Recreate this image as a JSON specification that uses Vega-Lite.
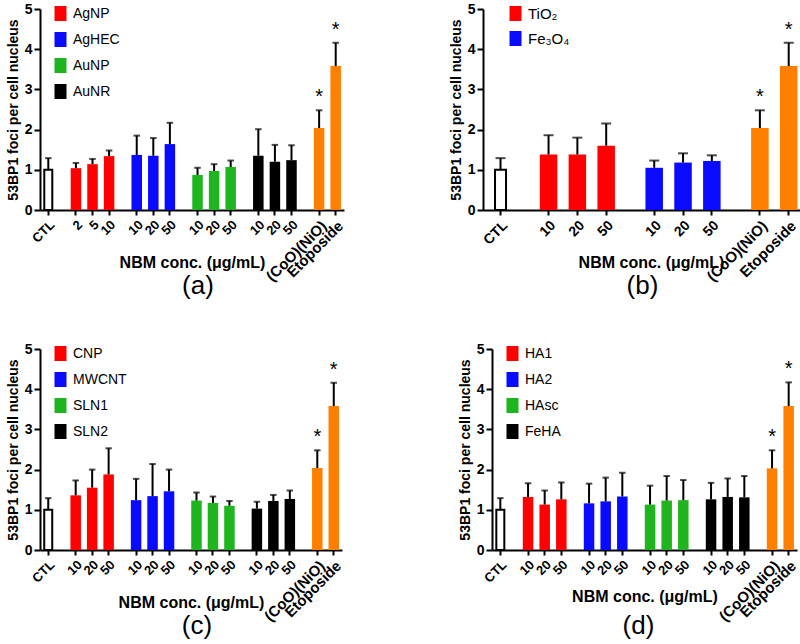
{
  "$schema": "https://vega.github.io/schema/vega-lite/v6.json",
  "padding": {"left": 6, "top": 2, "right": 0, "bottom": 0},
  "datasets": {
    "a": [
      {"key": "CTL", "grp": "CTL", "mean": 1.0, "upper": 1.29},
      {"key": "AgNP:2", "grp": "AgNP", "mean": 1.04, "upper": 1.17},
      {"key": "AgNP:5", "grp": "AgNP", "mean": 1.14, "upper": 1.27},
      {"key": "AgNP:10", "grp": "AgNP", "mean": 1.34, "upper": 1.48},
      {"key": "AgHEC:10", "grp": "AgHEC", "mean": 1.37, "upper": 1.85},
      {"key": "AgHEC:20", "grp": "AgHEC", "mean": 1.35, "upper": 1.79},
      {"key": "AgHEC:50", "grp": "AgHEC", "mean": 1.64, "upper": 2.17},
      {"key": "AuNP:10", "grp": "AuNP", "mean": 0.87, "upper": 1.05},
      {"key": "AuNP:20", "grp": "AuNP", "mean": 0.97, "upper": 1.14},
      {"key": "AuNP:50", "grp": "AuNP", "mean": 1.07, "upper": 1.23},
      {"key": "AuNR:10", "grp": "AuNR", "mean": 1.35, "upper": 2.01},
      {"key": "AuNR:20", "grp": "AuNR", "mean": 1.2, "upper": 1.62},
      {"key": "AuNR:50", "grp": "AuNR", "mean": 1.24, "upper": 1.61},
      {"key": "(CoO)(NiO)", "grp": "pos", "mean": 2.04, "upper": 2.48, "sig": "*"},
      {"key": "Etoposide", "grp": "pos", "mean": 3.58, "upper": 4.16, "sig": "*"}
    ],
    "b": [
      {"key": "CTL", "grp": "CTL", "mean": 1.0, "upper": 1.29},
      {"key": "TiO2:10", "grp": "TiO₂", "mean": 1.38, "upper": 1.86},
      {"key": "TiO2:20", "grp": "TiO₂", "mean": 1.38, "upper": 1.8},
      {"key": "TiO2:50", "grp": "TiO₂", "mean": 1.6, "upper": 2.15},
      {"key": "Fe3O4:10", "grp": "Fe₃O₄", "mean": 1.05, "upper": 1.23},
      {"key": "Fe3O4:20", "grp": "Fe₃O₄", "mean": 1.18, "upper": 1.41},
      {"key": "Fe3O4:50", "grp": "Fe₃O₄", "mean": 1.22, "upper": 1.36},
      {"key": "(CoO)(NiO)", "grp": "pos", "mean": 2.04, "upper": 2.48, "sig": "*"},
      {"key": "Etoposide", "grp": "pos", "mean": 3.58, "upper": 4.16, "sig": "*"}
    ],
    "c": [
      {"key": "CTL", "grp": "CTL", "mean": 1.0, "upper": 1.29},
      {"key": "CNP:10", "grp": "CNP", "mean": 1.36, "upper": 1.73},
      {"key": "CNP:20", "grp": "CNP", "mean": 1.55, "upper": 2.0},
      {"key": "CNP:50", "grp": "CNP", "mean": 1.88, "upper": 2.53},
      {"key": "MWCNT:10", "grp": "MWCNT", "mean": 1.24, "upper": 1.77},
      {"key": "MWCNT:20", "grp": "MWCNT", "mean": 1.34, "upper": 2.14},
      {"key": "MWCNT:50", "grp": "MWCNT", "mean": 1.46, "upper": 2.0},
      {"key": "SLN1:10", "grp": "SLN1", "mean": 1.23, "upper": 1.43},
      {"key": "SLN1:20", "grp": "SLN1", "mean": 1.17, "upper": 1.33},
      {"key": "SLN1:50", "grp": "SLN1", "mean": 1.1, "upper": 1.22},
      {"key": "SLN2:10", "grp": "SLN2", "mean": 1.03, "upper": 1.2},
      {"key": "SLN2:20", "grp": "SLN2", "mean": 1.22, "upper": 1.37},
      {"key": "SLN2:50", "grp": "SLN2", "mean": 1.27, "upper": 1.48},
      {"key": "(CoO)(NiO)", "grp": "pos", "mean": 2.04, "upper": 2.48, "sig": "*"},
      {"key": "Etoposide", "grp": "pos", "mean": 3.58, "upper": 4.16, "sig": "*"}
    ],
    "d": [
      {"key": "CTL", "grp": "CTL", "mean": 1.0, "upper": 1.29},
      {"key": "HA1:10", "grp": "HA1", "mean": 1.32, "upper": 1.66},
      {"key": "HA1:20", "grp": "HA1", "mean": 1.13, "upper": 1.48},
      {"key": "HA1:50", "grp": "HA1", "mean": 1.26, "upper": 1.68},
      {"key": "HA2:10", "grp": "HA2", "mean": 1.16, "upper": 1.65},
      {"key": "HA2:20", "grp": "HA2", "mean": 1.21, "upper": 1.8},
      {"key": "HA2:50", "grp": "HA2", "mean": 1.33, "upper": 1.92},
      {"key": "HAsc:10", "grp": "HAsc", "mean": 1.13, "upper": 1.6},
      {"key": "HAsc:20", "grp": "HAsc", "mean": 1.23, "upper": 1.84},
      {"key": "HAsc:50", "grp": "HAsc", "mean": 1.24, "upper": 1.74},
      {"key": "FeHA:10", "grp": "FeHA", "mean": 1.26, "upper": 1.67},
      {"key": "FeHA:20", "grp": "FeHA", "mean": 1.32, "upper": 1.78},
      {"key": "FeHA:50", "grp": "FeHA", "mean": 1.31, "upper": 1.84},
      {"key": "(CoO)(NiO)", "grp": "pos", "mean": 2.03, "upper": 2.48, "sig": "*"},
      {"key": "Etoposide", "grp": "pos", "mean": 3.58, "upper": 4.17, "sig": "*"}
    ]
  },
  "vconcat": [
    {
      "hconcat": [
        {
          "width": 304, "height": 201,
          "data": {"name": "a"},
          "title": {"text": "(a)", "orient": "bottom", "anchor": "middle", "frame": "group", "fontSize": 26, "fontWeight": "normal", "offset": -11, "dx": 6},
          "encoding": {
            "x": {"field": "key", "type": "nominal",
              "scale": {"type": "band", "paddingInner": 0, "paddingOuter": 1.6,
                "domain": ["CTL","_1","_2","_3","_4","AgNP:2","_6","_7","AgNP:5","_9","_10","AgNP:10","_12","_13","_14","_15","AgHEC:10","_17","_18","AgHEC:20","_20","_21","AgHEC:50","_23","_24","_25","_26","AuNP:10","_28","_29","AuNP:20","_31","_32","AuNP:50","_34","_35","_36","_37","AuNR:10","_39","_40","AuNR:20","_42","_43","AuNR:50","_45","_46","_47","_48","(CoO)(NiO)","_50","_51","Etoposide"]},
              "axis": {"title": "NBM conc. (μg/mL)", "titleFontSize": 16, "titleY": 44, "titleBaseline": "top", "labelAngle": -45, "labelOverlap": false, "labelPadding": 3,
                "labelFontSize": {"condition": {"test": "length(datum.value) > 8", "value": 15}, "value": 13},
                "labelExpr": "indexof(datum.value,'_')==0 ? '' : (indexof(datum.value,':')>0 ? split(datum.value,':')[1] : datum.value)",
                "tickOpacity": {"condition": {"test": "indexof(datum.value,'_')==0", "value": 0}, "value": 1},
                "encode": {"labels": {"update": {"angle": {"signal": "length(datum.value) > 8 ? -62 : -45"}}}}}}
          },
          "layer": [
            {"transform": [{"filter": "datum.grp != 'CTL'"}],
             "mark": {"type": "bar", "width": 10.5},
             "encoding": {
               "y": {"field": "mean", "type": "quantitative", "title": "53BP1 foci per cell nucleus", "scale": {"domain": [0, 5]}, "axis": {"values": [0,1,2,3,4,5], "tickSize": 6, "labelPadding": 2, "labelFontSize": 14, "titleFontSize": 14, "titlePadding": 4, "format": "d"}},
               "color": {"field": "grp", "type": "nominal",
                 "scale": {"domain": ["AgNP","AgHEC","AuNP","AuNR","pos"], "range": ["#ff0000","#0a0aff","#1fb51f","#000000","#ff8000"]},
                 "legend": {"values": ["AgNP","AgHEC","AuNP","AuNR"], "title": null, "orient": "none", "legendX": 13, "legendY": -3}}
             }},
            {"transform": [{"filter": "datum.grp == 'CTL'"}],
             "mark": {"type": "bar", "width": 8, "fill": "white", "stroke": "black", "strokeWidth": 2},
             "encoding": {"y": {"field": "mean", "type": "quantitative", "title": "53BP1 foci per cell nucleus"}}},
            {"mark": {"type": "rule", "color": "black", "strokeWidth": 2},
             "encoding": {"y": {"field": "mean", "type": "quantitative", "title": "53BP1 foci per cell nucleus"}, "y2": {"field": "upper"}}},
            {"mark": {"type": "tick", "color": "black", "thickness": 2, "size": 6.5},
             "encoding": {"y": {"field": "upper", "type": "quantitative", "title": "53BP1 foci per cell nucleus"}}},
            {"transform": [{"filter": "datum.sig"}],
             "mark": {"type": "text", "fontSize": 20, "dy": -7, "baseline": "alphabetic", "color": "black"},
             "encoding": {"y": {"field": "upper", "type": "quantitative", "title": "53BP1 foci per cell nucleus"}, "text": {"field": "sig"}}}
          ]
        },
        {
          "width": 317, "height": 201,
          "data": {"name": "b"},
          "title": {"text": "(b)", "orient": "bottom", "anchor": "middle", "frame": "group", "fontSize": 26, "fontWeight": "normal", "offset": -11, "dx": 1},
          "encoding": {
            "x": {"field": "key", "type": "nominal",
              "scale": {"type": "band", "paddingInner": 0, "paddingOuter": 2.31, "align": 0.662,
                "domain": ["CTL","_1","_2","_3","_4","TiO2:10","_6","_7","TiO2:20","_9","_10","TiO2:50","_12","_13","_14","_15","Fe3O4:10","_17","_18","Fe3O4:20","_20","_21","Fe3O4:50","_23","_24","_25","_26","(CoO)(NiO)","_28","_29","Etoposide"]},
              "axis": {"title": "NBM conc. (μg/mL)", "titleFontSize": 16, "titleY": 44, "titleBaseline": "top", "titleX": 168, "labelAngle": -45, "labelOverlap": false, "labelPadding": 3,
                "labelFontSize": {"condition": {"test": "length(datum.value) > 8", "value": 15}, "value": 14},
                "labelExpr": "indexof(datum.value,'_')==0 ? '' : (indexof(datum.value,':')>0 ? split(datum.value,':')[1] : datum.value)",
                "tickOpacity": {"condition": {"test": "indexof(datum.value,'_')==0", "value": 0}, "value": 1},
                "encode": {"labels": {"update": {"angle": {"signal": "length(datum.value) > 8 ? -62 : -45"}}}}}}
          },
          "layer": [
            {"transform": [{"filter": "datum.grp != 'CTL'"}],
             "mark": {"type": "bar", "width": 17.5},
             "encoding": {
               "y": {"field": "mean", "type": "quantitative", "title": "53BP1 foci per cell nucleus", "scale": {"domain": [0, 5]}, "axis": {"values": [0,1,2,3,4,5], "tickSize": 6, "labelPadding": 2, "labelFontSize": 14, "titleFontSize": 14, "titlePadding": 4, "format": "d"}},
               "color": {"field": "grp", "type": "nominal",
                 "scale": {"domain": ["TiO₂","Fe₃O₄","pos"], "range": ["#ff0000","#0a0aff","#ff8000"]},
                 "legend": {"values": ["TiO₂","Fe₃O₄"], "title": null, "orient": "none", "legendX": 25, "legendY": -3, "rowPadding": 9, "labelFontSize": 15}}
             }},
            {"transform": [{"filter": "datum.grp == 'CTL'"}],
             "mark": {"type": "bar", "width": 11, "fill": "white", "stroke": "black", "strokeWidth": 2},
             "encoding": {"y": {"field": "mean", "type": "quantitative", "title": "53BP1 foci per cell nucleus"}}},
            {"mark": {"type": "rule", "color": "black", "strokeWidth": 2},
             "encoding": {"y": {"field": "mean", "type": "quantitative", "title": "53BP1 foci per cell nucleus"}, "y2": {"field": "upper"}}},
            {"mark": {"type": "tick", "color": "black", "thickness": 2, "size": 10},
             "encoding": {"y": {"field": "upper", "type": "quantitative", "title": "53BP1 foci per cell nucleus"}}},
            {"transform": [{"filter": "datum.sig"}],
             "mark": {"type": "text", "fontSize": 20, "dy": -7, "baseline": "alphabetic", "color": "black"},
             "encoding": {"y": {"field": "upper", "type": "quantitative", "title": "53BP1 foci per cell nucleus"}, "text": {"field": "sig"}}}
          ]
        }
      ],
      "spacing": 103,
      "resolve": {"scale": {"x": "independent", "y": "independent", "color": "independent"}, "legend": {"color": "independent"}}
    },
    {
      "hconcat": [
        {
          "width": 302, "height": 201,
          "data": {"name": "c"},
          "title": {"text": "(c)", "orient": "bottom", "anchor": "middle", "frame": "group", "fontSize": 26, "fontWeight": "normal", "offset": -11, "dx": 6},
          "encoding": {
            "x": {"field": "key", "type": "nominal",
              "scale": {"type": "band", "paddingInner": 0, "paddingOuter": 1.5,
                "domain": ["CTL","_1","_2","_3","_4","CNP:10","_6","_7","CNP:20","_9","_10","CNP:50","_12","_13","_14","_15","MWCNT:10","_17","_18","MWCNT:20","_20","_21","MWCNT:50","_23","_24","_25","_26","SLN1:10","_28","_29","SLN1:20","_31","_32","SLN1:50","_34","_35","_36","_37","SLN2:10","_39","_40","SLN2:20","_42","_43","SLN2:50","_45","_46","_47","_48","(CoO)(NiO)","_50","_51","Etoposide"]},
              "axis": {"title": "NBM conc. (μg/mL)", "titleFontSize": 16, "titleY": 44, "titleBaseline": "top", "labelAngle": -45, "labelOverlap": false, "labelPadding": 3,
                "labelFontSize": {"condition": {"test": "length(datum.value) > 8", "value": 15}, "value": 13},
                "labelExpr": "indexof(datum.value,'_')==0 ? '' : (indexof(datum.value,':')>0 ? split(datum.value,':')[1] : datum.value)",
                "tickOpacity": {"condition": {"test": "indexof(datum.value,'_')==0", "value": 0}, "value": 1},
                "encode": {"labels": {"update": {"angle": {"signal": "length(datum.value) > 8 ? -62 : -45"}}}}}}
          },
          "layer": [
            {"transform": [{"filter": "datum.grp != 'CTL'"}],
             "mark": {"type": "bar", "width": 10.5},
             "encoding": {
               "y": {"field": "mean", "type": "quantitative", "title": "53BP1 foci per cell nucleus", "scale": {"domain": [0, 5]}, "axis": {"values": [0,1,2,3,4,5], "tickSize": 6, "labelPadding": 2, "labelFontSize": 14, "titleFontSize": 14, "titlePadding": 4, "format": "d"}},
               "color": {"field": "grp", "type": "nominal",
                 "scale": {"domain": ["CNP","MWCNT","SLN1","SLN2","pos"], "range": ["#ff0000","#0a0aff","#1fb51f","#000000","#ff8000"]},
                 "legend": {"values": ["CNP","MWCNT","SLN1","SLN2"], "title": null, "orient": "none", "legendX": 13, "legendY": -3}}
             }},
            {"transform": [{"filter": "datum.grp == 'CTL'"}],
             "mark": {"type": "bar", "width": 8, "fill": "white", "stroke": "black", "strokeWidth": 2},
             "encoding": {"y": {"field": "mean", "type": "quantitative", "title": "53BP1 foci per cell nucleus"}}},
            {"mark": {"type": "rule", "color": "black", "strokeWidth": 2},
             "encoding": {"y": {"field": "mean", "type": "quantitative", "title": "53BP1 foci per cell nucleus"}, "y2": {"field": "upper"}}},
            {"mark": {"type": "tick", "color": "black", "thickness": 2, "size": 6.5},
             "encoding": {"y": {"field": "upper", "type": "quantitative", "title": "53BP1 foci per cell nucleus"}}},
            {"transform": [{"filter": "datum.sig"}],
             "mark": {"type": "text", "fontSize": 20, "dy": -7, "baseline": "alphabetic", "color": "black"},
             "encoding": {"y": {"field": "upper", "type": "quantitative", "title": "53BP1 foci per cell nucleus"}, "text": {"field": "sig"}}}
          ]
        },
        {
          "width": 305, "height": 201,
          "data": {"name": "d"},
          "title": {"text": "(d)", "orient": "bottom", "anchor": "middle", "frame": "group", "fontSize": 26, "fontWeight": "normal", "offset": -11, "dx": -6},
          "encoding": {
            "x": {"field": "key", "type": "nominal",
              "scale": {"type": "band", "paddingInner": 0, "paddingOuter": 1.7,
                "domain": ["CTL","_1","_2","_3","_4","HA1:10","_6","_7","HA1:20","_9","_10","HA1:50","_12","_13","_14","_15","HA2:10","_17","_18","HA2:20","_20","_21","HA2:50","_23","_24","_25","_26","HAsc:10","_28","_29","HAsc:20","_31","_32","HAsc:50","_34","_35","_36","_37","FeHA:10","_39","_40","FeHA:20","_42","_43","FeHA:50","_45","_46","_47","_48","(CoO)(NiO)","_50","_51","Etoposide"]},
              "axis": {"title": "NBM conc. (μg/mL)", "titleFontSize": 16, "titleY": 38, "titleBaseline": "top", "labelAngle": -45, "labelOverlap": false, "labelPadding": 3,
                "labelFontSize": {"condition": {"test": "length(datum.value) > 8", "value": 15}, "value": 13},
                "labelExpr": "indexof(datum.value,'_')==0 ? '' : (indexof(datum.value,':')>0 ? split(datum.value,':')[1] : datum.value)",
                "tickOpacity": {"condition": {"test": "indexof(datum.value,'_')==0", "value": 0}, "value": 1},
                "encode": {"labels": {"update": {"angle": {"signal": "length(datum.value) > 8 ? -62 : -45"}}}}}}
          },
          "layer": [
            {"transform": [{"filter": "datum.grp != 'CTL'"}],
             "mark": {"type": "bar", "width": 10.5},
             "encoding": {
               "y": {"field": "mean", "type": "quantitative", "title": "53BP1 foci per cell nucleus", "scale": {"domain": [0, 5]}, "axis": {"values": [0,1,2,3,4,5], "tickSize": 6, "labelPadding": 2, "labelFontSize": 14, "titleFontSize": 14, "titlePadding": 4, "format": "d"}},
               "color": {"field": "grp", "type": "nominal",
                 "scale": {"domain": ["HA1","HA2","HAsc","FeHA","pos"], "range": ["#ff0000","#0a0aff","#1fb51f","#000000","#ff8000"]},
                 "legend": {"values": ["HA1","HA2","HAsc","FeHA"], "title": null, "orient": "none", "legendX": 13, "legendY": -3}}
             }},
            {"transform": [{"filter": "datum.grp == 'CTL'"}],
             "mark": {"type": "bar", "width": 8, "fill": "white", "stroke": "black", "strokeWidth": 2},
             "encoding": {"y": {"field": "mean", "type": "quantitative", "title": "53BP1 foci per cell nucleus"}}},
            {"mark": {"type": "rule", "color": "black", "strokeWidth": 2},
             "encoding": {"y": {"field": "mean", "type": "quantitative", "title": "53BP1 foci per cell nucleus"}, "y2": {"field": "upper"}}},
            {"mark": {"type": "tick", "color": "black", "thickness": 2, "size": 6.5},
             "encoding": {"y": {"field": "upper", "type": "quantitative", "title": "53BP1 foci per cell nucleus"}}},
            {"transform": [{"filter": "datum.sig"}],
             "mark": {"type": "text", "fontSize": 20, "dy": -7, "baseline": "alphabetic", "color": "black"},
             "encoding": {"y": {"field": "upper", "type": "quantitative", "title": "53BP1 foci per cell nucleus"}, "text": {"field": "sig"}}}
          ]
        }
      ],
      "spacing": 114,
      "resolve": {"scale": {"x": "independent", "y": "independent", "color": "independent"}, "legend": {"color": "independent"}}
    }
  ],
  "spacing": 43,
  "resolve": {"scale": {"x": "independent", "y": "independent", "color": "independent"}, "legend": {"color": "independent"}},
  "config": {
    "font": "Liberation Sans",
    "background": "white",
    "view": {"stroke": null},
    "axis": {"domainColor": "black", "domainWidth": 2, "tickColor": "black", "tickWidth": 2, "tickSize": 5, "labelColor": "black", "labelFont": "Liberation Sans", "labelFontWeight": "bold", "labelFontSize": 13, "titleColor": "black", "titleFont": "Liberation Sans", "titleFontWeight": "bold", "grid": false},
    "legend": {"symbolType": "M-0.8,-1H0.8V1H-0.8Z", "symbolSize": 225, "symbolStrokeWidth": 0, "labelFont": "Liberation Sans", "labelFontSize": 14, "labelColor": "black", "labelOffset": 5, "rowPadding": 11},
    "title": {"color": "black", "font": "Liberation Sans"}
  }
}
